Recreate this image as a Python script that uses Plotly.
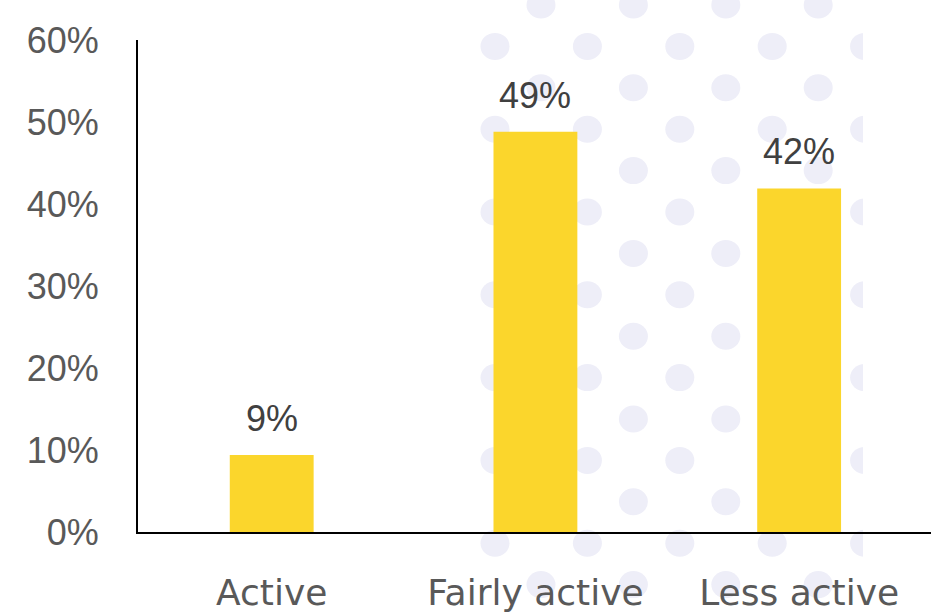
import plotly.graph_objects as go

# data
categories = ["Active", "Fairly active", "Less active"]
values = [9.4, 48.8, 41.9]
value_labels = ["9%", "49%", "42%"]
y_ticks = [0, 10, 20, 30, 40, 50, 60]
y_tick_labels = ["0%", "10%", "20%", "30%", "40%", "50%", "60%"]

W, H = 931, 612
M_L, M_R, M_T, M_B = 138, 0, 40, 80
BAR_COLOR = "#FBD62C"
DOT_COLOR = "#EEEEF8"


def px_to_paper(px, py):
    """Pixel position on the page -> paper coordinates of the plot area."""
    pw = W - M_L - M_R
    ph = H - M_T - M_B
    return (px - M_L) / pw, (H - M_B - py) / ph


fig = go.Figure(go.Bar(
    x=categories,
    y=values,
    marker={"color": BAR_COLOR, "line": {"width": 0}},
    width=0.318,
    hoverinfo="skip",
))

# data labels above bars
for cat, val, lab in zip(categories, values, value_labels):
    fig.add_annotation(
        x=cat, y=val, text=lab, showarrow=False,
        yanchor="bottom", yshift=14,
        font={"family": "Liberation Sans, Arial", "size": 36, "color": "#404040"},
    )

# decorative dot pattern behind the chart (staggered grid, cut on the right)
dot_shapes = []
row_step, col_step = 41.4, 92.4
rx, ry = 14.5, 13.5
clip_right = 863
for r in range(-1, 15):
    cy = 5 + r * row_step
    x_start = 541 if r % 2 == 0 else 495
    for c in range(6):
        cx = x_start + c * col_step
        if cx - rx >= clip_right or cy + ry < 0 or cy - ry > H:
            continue
        x0, y0 = px_to_paper(cx - rx, cy + ry)
        x1, y1 = px_to_paper(cx + rx, cy - ry)
        dot_shapes.append(dict(
            type="circle", xref="paper", yref="paper", layer="below",
            x0=x0, y0=y0, x1=x1, y1=y1,
            line={"width": 0}, fillcolor=DOT_COLOR,
        ))
        if cx + rx > clip_right:
            # white cover for the part beyond the pattern edge
            c0, _ = px_to_paper(clip_right, 0)
            c1, _ = px_to_paper(cx + rx + 2, 0)
            dot_shapes.append(dict(
                type="rect", xref="paper", yref="paper", layer="below",
                x0=c0, y0=y0 - 0.01, x1=c1, y1=y1 + 0.01,
                line={"width": 0}, fillcolor="white",
            ))

fig.update_layout(
    width=W,
    height=H,
    margin=dict(l=M_L, r=M_R, t=M_T, b=M_B, autoexpand=False),
    paper_bgcolor="white",
    plot_bgcolor="rgba(0,0,0,0)",
    showlegend=False,
    shapes=dot_shapes,
    xaxis=dict(
        range=[-0.507, 2.5],
        showline=True, linecolor="black", linewidth=2,
        showgrid=False, zeroline=False,
        ticks="", ticklabelstandoff=28,
        tickfont={"family": "DejaVu Sans", "size": 36, "color": "#595959"},
    ),
    yaxis=dict(
        range=[0, 60],
        tickvals=y_ticks, ticktext=y_tick_labels,
        showline=True, linecolor="black", linewidth=2,
        showgrid=False, zeroline=False,
        ticks="", ticklabelstandoff=30,
        tickfont={"family": "Liberation Sans, Arial", "size": 36, "color": "#595959"},
    ),
)

fig.write_html(
    "out.html",
    config={"displayModeBar": False},
    post_script="document.body.style.margin='0';",
)
